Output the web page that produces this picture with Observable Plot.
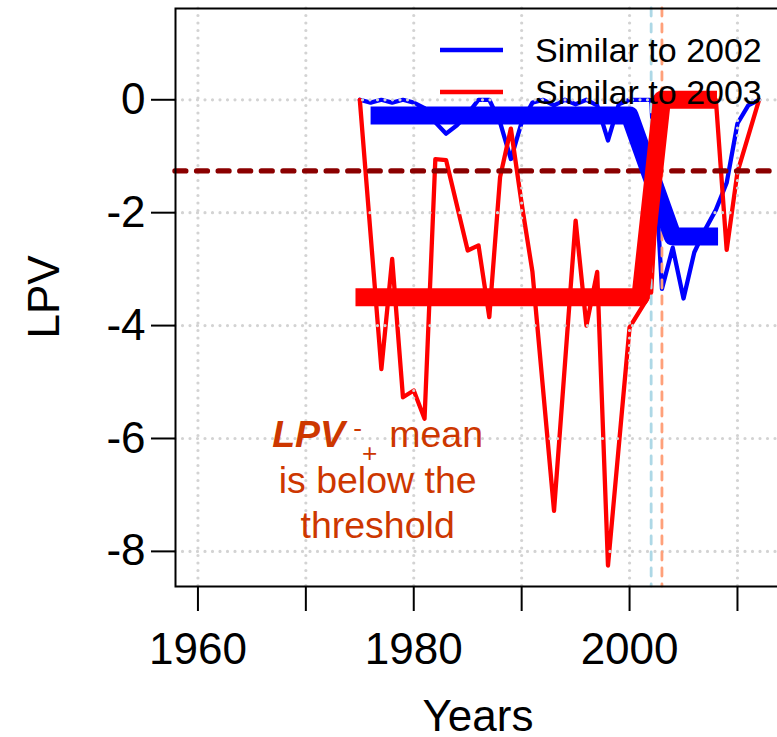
<!DOCTYPE html>
<html><head><meta charset="utf-8">
<script src="https://cdn.jsdelivr.net/npm/d3@7"></script>
<script src="https://cdn.jsdelivr.net/npm/@observablehq/plot@0.6"></script>
<style>
html,body{margin:0;padding:0;background:#fff;overflow:hidden;}
#chart{width:777px;height:737px;overflow:hidden;position:relative;}
#chart svg{max-width:none !important;width:781px !important;height:737px !important;}
</style></head><body><div id="chart"></div>
<script>
// ---- data ----
const years2002 = [1975,1976,1977,1978,1979,1980,1981,1982,1983,1984,1985,1986,1987,1988,1989,1990,1991,1992,1993,1994,1995,1996,1997,1998,1999,2000,2001,2002,2003,2004,2005,2006,2007,2008,2009,2010,2011,2012];
const lpv2002 = [0,-0.05,0,-0.05,0,-0.05,-0.15,-0.4,-0.6,-0.45,-0.25,0,0,-0.4,-1.05,-0.4,-0.05,0,-0.1,0,-0.08,0,-0.1,-0.72,-0.08,0,0,0,-3.35,-2.62,-3.52,-2.7,-2.3,-1.95,-1.47,-0.42,-0.1,0];
const years2003 = [1975,1977,1978,1979,1980,1981,1982,1983,1985,1986,1987,1988,1989,1990,1991,1993,1995,1996,1997,1998,2000,2001,2002,2003,2008,2009,2010,2012];
const lpv2003 = [0,-4.77,-2.82,-5.27,-5.15,-5.65,-1.05,-1.07,-2.67,-2.58,-3.85,-1.37,-0.51,-1.84,-3.05,-7.28,-2.14,-4.0,-3.05,-8.25,-4.03,-3.72,-3.41,0,0,-2.66,-1.28,0];
const meanYears2002 = [1976,2000,2004,2008.2];
const meanLpv2002 = [-0.28,-0.28,-2.42,-2.42];
const meanYears2003 = [1974.6,2001,2003,2008.1];
const meanLpv2003 = [-3.5,-3.5,0,0];
const threshold = -1.26;
const refYears = [2002,2003];
const refColors = ["#ADD8E6","#FFA07A"];
const xTicks = [1960,1970,1980,1990,2000,2010];
const xTickLabels = ["1960","","1980","","2000",""];
const yTicks = [-8,-6,-4,-2,0];
const yTickLabels = ["-8","-6","-4","-2","0"];
const seriesNames = ["Similar to 2002","Similar to 2003"];
const seriesColors = ["#0000FF","#FF0000"];
const annoX = 1976.7, annoY = -6.16;
const annoLines = ["is below the","threshold"];
const xTitle = "Years", yTitle = "LPV";

// ---- build tables ----
const zip = (xs, ys) => xs.map((x, i) => ({year: x, lpv: ys[i]}));
const s2002 = zip(years2002, lpv2002), s2003 = zip(years2003, lpv2003);
const m2002 = zip(meanYears2002, meanLpv2002), m2003 = zip(meanYears2003, meanLpv2003);
const FONT = '"Liberation Sans", Arial, Helvetica, sans-serif';
const AXFS = 44;
const grid = {stroke: "#D3D3D3", strokeWidth: 3.2, strokeDasharray: "0 7.5", strokeLinecap: "round"};

const plot = Plot.plot({
  width: 781, height: 737,
  marginLeft: 175, marginRight: 0, marginTop: 8, marginBottom: 151,
  style: {fontFamily: FONT, fontSize: AXFS + "px", color: "black", background: "white", maxWidth: "none"},
  x: {domain: [1957.92, 2014.08]},
  y: {domain: [-8.622, 1.617]},
  marks: [
    Plot.line(s2002, {x: "year", y: "lpv", stroke: seriesColors[0], strokeWidth: 4.3}),
    Plot.line(s2003, {x: "year", y: "lpv", stroke: seriesColors[1], strokeWidth: 4.3}),
    Plot.ruleX(xTicks, grid),
    Plot.ruleY(yTicks, grid),
    Plot.ruleY([threshold], {stroke: "#8B0000", strokeWidth: 5.4, strokeDasharray: "10.8 10.8", strokeLinecap: "round"}),
    ...refYears.map((yr, i) => Plot.ruleX([yr], {stroke: refColors[i], strokeWidth: 2.8, strokeDasharray: "8 8", strokeLinecap: "round"})),
    Plot.line(m2002, {x: "year", y: "lpv", stroke: seriesColors[0], strokeWidth: 18, strokeLinecap: "butt", strokeLinejoin: "round"}),
    Plot.line(m2003, {x: "year", y: "lpv", stroke: seriesColors[1], strokeWidth: 18, strokeLinecap: "butt", strokeLinejoin: "round"}),
    Plot.axisX(xTicks, {tickSize: 25, tickPadding: 21, strokeWidth: 2, tickFormat: (d, i) => xTickLabels[i], fontSize: AXFS, label: null}),
    Plot.axisY(yTicks, {tickSize: 24, tickPadding: 6, strokeWidth: 2, tickFormat: (d, i) => yTickLabels[i], fontSize: AXFS, label: null}),
    Plot.frame({stroke: "black", strokeWidth: 2})
  ]
});
plot.style.maxWidth = "none";
plot.setAttribute("width", 781);
plot.setAttribute("height", 737);
document.getElementById("chart").appendChild(plot);

// ---- legend, annotation and axis titles ----
const svg = d3.select(plot);
const xs = plot.scale("x"), ys = plot.scale("y");
const leg = svg.append("g").attr("font-family", FONT).attr("font-size", 34).attr("text-anchor", "start");
seriesNames.forEach((name, i) => {
  const cy = 50 + i * 42;
  leg.append("line").attr("x1", 440).attr("x2", 503).attr("y1", cy).attr("y2", cy)
    .attr("stroke", seriesColors[i]).attr("stroke-width", 4.3);
  leg.append("text").attr("x", 535).attr("y", cy + 12.2).attr("fill", "black").text(name);
});

const ax = xs.apply(annoX), ay = ys.apply(annoY);
const ann = svg.append("g").attr("font-family", FONT).attr("font-size", 37.5).attr("fill", "#CD3700").attr("text-anchor", "middle");
const t1 = ann.append("text").attr("x", ax).attr("y", ay);
t1.append("tspan").attr("font-weight", "bold").attr("font-style", "italic").text("LPV");
t1.append("tspan").attr("font-size", 26.3).attr("dx", 8).attr("dy", -10).text("-");
t1.append("tspan").attr("font-size", 26.3).attr("dx", 0).attr("dy", 25).text("+");
t1.append("tspan").attr("dx", 12).attr("dy", -15).text("mean");
annoLines.forEach((s, i) => {
  ann.append("text").attr("x", ax).attr("y", ay + 45.5 * (i + 1)).text(s);
});

const titles = svg.append("g").attr("font-family", FONT).attr("font-size", AXFS).attr("fill", "black").attr("text-anchor", "middle");
titles.append("text").attr("x", (175 + 781) / 2).attr("y", 731).text(xTitle);
titles.append("text").attr("transform", `translate(59,297) rotate(-90)`).text(yTitle);
</script>
</body></html>
